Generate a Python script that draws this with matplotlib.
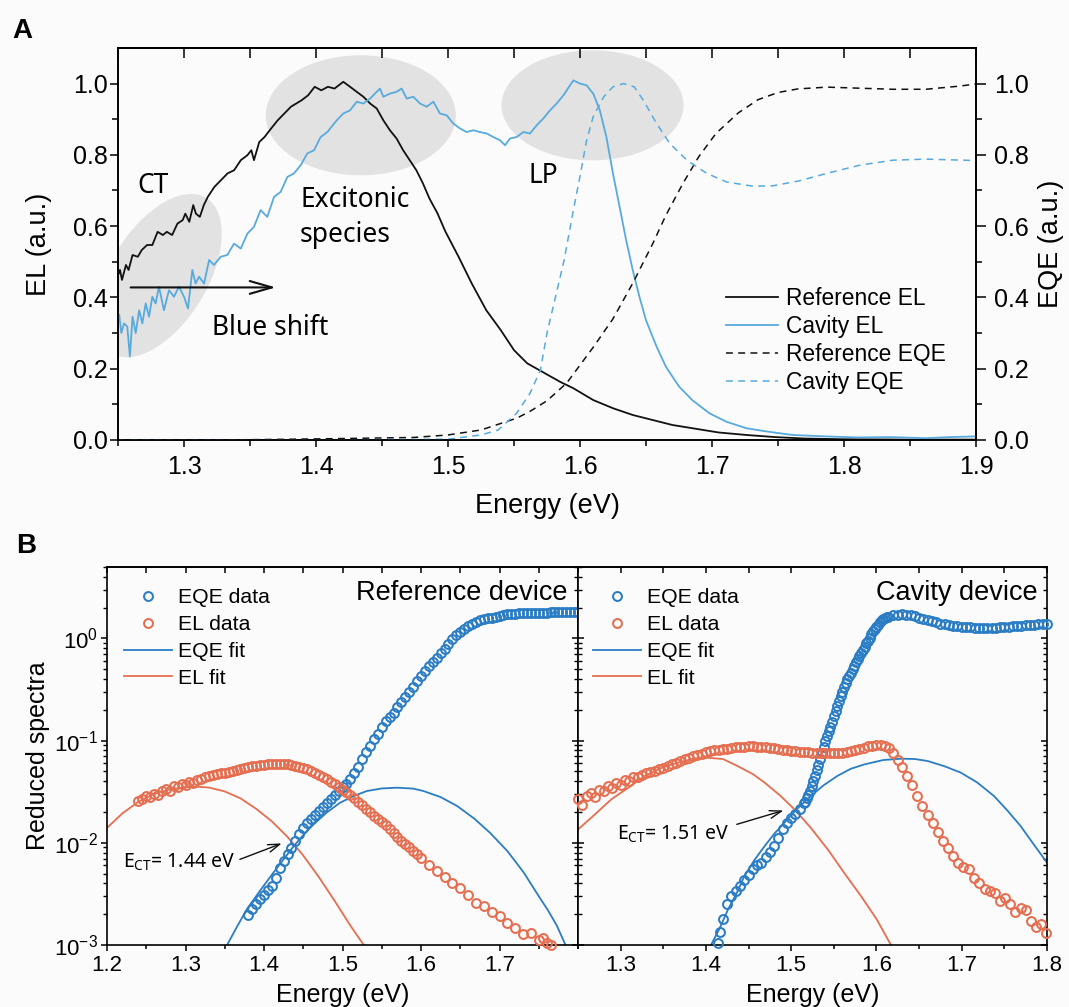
import numpy as np
import matplotlib
matplotlib.use("Agg")
import matplotlib.pyplot as plt
from matplotlib.patches import Ellipse
from matplotlib.transforms import ScaledTranslation
from matplotlib.ticker import MultipleLocator, FormatStrFormatter, NullFormatter, FixedLocator

plt.rcParams["font.family"] = ["Liberation Sans", "DejaVu Sans"]
plt.rcParams["mathtext.fontset"] = "custom"
plt.rcParams["mathtext.rm"] = "Liberation Sans"
plt.rcParams["mathtext.it"] = "Liberation Sans:italic"
plt.rcParams["mathtext.bf"] = "Liberation Sans:bold"

# ---------- panel A data ---------- #
ref_el_e = [1.250, 1.2515, 1.253, 1.256, 1.258, 1.261, 1.265, 1.268, 1.272, 1.276,
            1.280, 1.284, 1.287, 1.291, 1.295, 1.299, 1.301, 1.304, 1.307, 1.309,
            1.312, 1.315, 1.318, 1.323, 1.328, 1.333, 1.338, 1.343, 1.348, 1.351,
            1.353, 1.357, 1.361, 1.366, 1.371, 1.376, 1.381, 1.389, 1.394, 1.399,
            1.404, 1.409, 1.414, 1.4207, 1.4258, 1.4308, 1.4359, 1.441, 1.446, 1.451,
            1.456, 1.461, 1.466, 1.471, 1.476, 1.481, 1.486, 1.492, 1.498, 1.508,
            1.518, 1.529, 1.540, 1.550, 1.560, 1.572, 1.585, 1.595, 1.610, 1.625,
            1.640, 1.655, 1.670, 1.685, 1.705, 1.726, 1.748, 1.770, 1.800, 1.850, 1.900]
ref_el_v = [0.462, 0.477, 0.449, 0.491, 0.477, 0.519, 0.514, 0.533, 0.547, 0.547,
            0.584, 0.575, 0.584, 0.575, 0.607, 0.617, 0.635, 0.612, 0.659, 0.635,
            0.626, 0.659, 0.682, 0.710, 0.729, 0.748, 0.757, 0.785, 0.799, 0.813,
            0.785, 0.836, 0.850, 0.874, 0.897, 0.916, 0.935, 0.953, 0.967, 0.991,
            0.981, 0.991, 0.986, 1.005, 0.991, 0.977, 0.963, 0.944, 0.930, 0.897,
            0.869, 0.846, 0.813, 0.785, 0.757, 0.720, 0.677, 0.636, 0.585, 0.514,
            0.439, 0.364, 0.308, 0.252, 0.215, 0.190, 0.163, 0.145, 0.112, 0.089,
            0.070, 0.056, 0.042, 0.033, 0.021, 0.014, 0.008, 0.004, 0.002, 0.001, 0.001]

cav_el_e = [1.2509, 1.2525, 1.2545, 1.257, 1.259, 1.261, 1.2634, 1.266, 1.2684, 1.271,
            1.2735, 1.276, 1.2785, 1.281, 1.2848, 1.2886, 1.2924, 1.2962, 1.300, 1.303,
            1.3063, 1.3088, 1.3114, 1.3152, 1.319, 1.3227, 1.3278, 1.3328, 1.3379, 1.343,
            1.348, 1.353, 1.358, 1.3631, 1.3682, 1.3732, 1.3783, 1.3833, 1.3884, 1.3934,
            1.3985, 1.4035, 1.4086, 1.4157, 1.4207, 1.4258, 1.4308, 1.4359, 1.441, 1.446,
            1.4485, 1.451, 1.4561, 1.4611, 1.4649, 1.4687, 1.4737, 1.4788, 1.4838, 1.4889,
            1.4939, 1.499, 1.504, 1.5091, 1.5141, 1.5192, 1.5242, 1.5293, 1.5343, 1.5394,
            1.5432, 1.547, 1.552, 1.5571, 1.5621, 1.5672, 1.5722, 1.5773, 1.5823, 1.5874,
            1.5924, 1.595, 1.600, 1.605, 1.610, 1.615, 1.620, 1.625, 1.630, 1.635,
            1.640, 1.645, 1.650, 1.658, 1.665, 1.675, 1.685, 1.698, 1.711, 1.726,
            1.741, 1.761, 1.786, 1.811, 1.836, 1.862, 1.880, 1.900]
cav_el_v = [0.351, 0.300, 0.327, 0.318, 0.234, 0.346, 0.300, 0.364, 0.327, 0.383,
            0.346, 0.402, 0.383, 0.430, 0.364, 0.420, 0.402, 0.430, 0.402, 0.369,
            0.477, 0.439, 0.458, 0.439, 0.505, 0.491, 0.514, 0.519, 0.551, 0.537,
            0.579, 0.598, 0.645, 0.626, 0.682, 0.696, 0.738, 0.748, 0.771, 0.804,
            0.813, 0.850, 0.864, 0.897, 0.916, 0.925, 0.949, 0.944, 0.958, 0.977,
            0.986, 0.963, 0.972, 0.977, 0.986, 0.958, 0.963, 0.944, 0.935, 0.949,
            0.916, 0.911, 0.888, 0.874, 0.864, 0.869, 0.864, 0.860, 0.850, 0.841,
            0.827, 0.846, 0.850, 0.864, 0.860, 0.883, 0.902, 0.925, 0.944, 0.967,
            0.995, 1.009, 1.000, 0.995, 0.972, 0.925, 0.850, 0.747, 0.654, 0.560,
            0.476, 0.402, 0.336, 0.262, 0.206, 0.150, 0.112, 0.075, 0.051, 0.033,
            0.024, 0.014, 0.010, 0.007, 0.008, 0.005, 0.008, 0.010]

ref_eqe_e = [1.250, 1.330, 1.380, 1.421, 1.474, 1.500, 1.525, 1.552, 1.562, 1.575,
             1.590, 1.610, 1.625, 1.640, 1.655, 1.665, 1.678, 1.690, 1.703, 1.720,
             1.735, 1.750, 1.765, 1.787, 1.812, 1.837, 1.862, 1.888, 1.900]
ref_eqe_v = [0.000, 0.000, 0.002, 0.004, 0.007, 0.014, 0.028, 0.061, 0.080, 0.110,
             0.160, 0.260, 0.340, 0.440, 0.550, 0.630, 0.720, 0.795, 0.860, 0.918,
             0.955, 0.975, 0.985, 0.990, 0.987, 0.984, 0.984, 0.993, 0.999]

cav_eqe_e = [1.250, 1.400, 1.450, 1.500, 1.525, 1.538, 1.552, 1.562, 1.570, 1.575,
             1.588, 1.595, 1.600, 1.605, 1.610, 1.618, 1.625, 1.633, 1.641, 1.648,
             1.658, 1.668, 1.681, 1.696, 1.711, 1.731, 1.746, 1.766, 1.787, 1.812,
             1.837, 1.862, 1.900]
cav_eqe_v = [0.000, 0.000, 0.001, 0.002, 0.014, 0.028, 0.075, 0.130, 0.196, 0.300,
             0.505, 0.645, 0.740, 0.841, 0.907, 0.963, 0.991, 1.000, 0.991, 0.953,
             0.888, 0.832, 0.785, 0.748, 0.724, 0.712, 0.713, 0.727, 0.748, 0.771,
             0.785, 0.788, 0.784]

# ---------- panel B data ---------- #
# reference device
ref_eqe_start, ref_eqe_step = 1.380, 0.005
ref_eqe_data = [1.95e-3, 2.24e-3, 2.51e-3, 2.82e-3, 3.09e-3, 3.47e-3, 3.80e-3, 4.57e-3, 5.62e-3, 6.61e-3,
                7.76e-3, 8.91e-3, 1.05e-2, 1.23e-2, 1.38e-2, 1.55e-2, 1.72e-2, 1.88e-2, 2.04e-2, 2.24e-2,
                2.45e-2, 2.66e-2, 2.92e-2, 3.20e-2, 3.51e-2, 3.80e-2, 4.17e-2, 4.79e-2, 5.56e-2, 6.61e-2,
                7.67e-2, 8.91e-2, 0.103, 0.117, 0.136, 0.155, 0.170, 0.187, 0.211, 0.236,
                0.265, 0.297, 0.334, 0.384, 0.430, 0.479, 0.531, 0.589, 0.646, 0.716,
                0.794, 0.881, 0.977, 1.07, 1.16, 1.24, 1.31, 1.39, 1.45, 1.50,
                1.54, 1.57, 1.60, 1.63, 1.66, 1.69, 1.72, 1.74, 1.75, 1.77,
                1.78, 1.79, 1.79, 1.79, 1.79, 1.79, 1.79, 1.80, 1.81, 1.81,
                1.82, 1.82, 1.82, 1.82, 1.82]

ref_el_start, ref_el_step = 1.240, 0.005
ref_el_data = [0.0256, 0.0268, 0.0285, 0.0279, 0.0301, 0.0295, 0.0322, 0.0335, 0.0318, 0.0361,
               0.0352, 0.0378, 0.0371, 0.0392, 0.0385, 0.0415, 0.0422, 0.0436, 0.0447, 0.0459,
               0.0466, 0.0478, 0.0486, 0.0497, 0.0507, 0.0519, 0.0528, 0.0541, 0.0549, 0.0558,
               0.0568, 0.0576, 0.0581, 0.0586, 0.0590, 0.0591, 0.0590, 0.0588, 0.0584, 0.0578,
               0.0568, 0.0555, 0.0540, 0.0522, 0.0502, 0.0480, 0.0458, 0.0437, 0.0417, 0.0395,
               0.0373, 0.0352, 0.0332, 0.0312, 0.0294, 0.0274, 0.0252, 0.0233, 0.0215, 0.0199,
               0.0184, 0.0171, 0.0159, 0.0148, 0.0136, 0.0124, 0.0114, 0.0105, 0.0098, 0.0091,
               0.0083, 0.0077, 0.0071]
ref_el_tail_e = [1.610, 1.620, 1.630, 1.640, 1.650, 1.660, 1.670, 1.680, 1.690, 1.700,
                 1.710, 1.720, 1.730, 1.740, 1.750, 1.755, 1.760, 1.765]
ref_el_tail = [0.0061, 0.0053, 0.0046, 0.0040, 0.0036, 0.0031, 0.0026, 0.0024, 0.0021, 0.0019,
               0.00165, 0.00148, 0.00128, 0.00131, 0.00112, 0.00118, 0.00104, 0.00100]

ref_elfit_e = [1.200, 1.220, 1.240, 1.260, 1.280, 1.300, 1.315, 1.330, 1.350, 1.370,
               1.390, 1.410, 1.430, 1.450, 1.470, 1.490, 1.510, 1.527]
ref_elfit = [0.0140, 0.0195, 0.0252, 0.0300, 0.0333, 0.0351, 0.0354, 0.0347, 0.0318, 0.0272,
             0.0215, 0.0162, 0.0114, 0.0075, 0.0046, 0.0027, 0.00155, 0.0010]
ref_eqefit_e = [1.353, 1.365, 1.378, 1.395, 1.412, 1.425, 1.438, 1.450, 1.463, 1.480,
                1.497, 1.515, 1.531, 1.550, 1.569, 1.590, 1.603, 1.625, 1.646, 1.668,
                1.688, 1.710, 1.731, 1.750, 1.761, 1.773, 1.784]
ref_eqefit = [0.0010, 0.00148, 0.00223, 0.0034, 0.0051, 0.0069, 0.0093, 0.0119, 0.0151, 0.0198,
              0.0247, 0.0288, 0.0321, 0.0340, 0.0346, 0.0339, 0.0321, 0.0280, 0.0229, 0.0172,
              0.0125, 0.0083, 0.0051, 0.0030, 0.00223, 0.00155, 0.0010]

# cavity device (EQE is sampled finer on the steep edge)
cav_eqe_head_e = [1.414, 1.417]
cav_eqe_head = [0.00105, 0.00135]
cav_eqe_low_start, cav_eqe_low_step = 1.420, 0.005
cav_eqe_low = [0.00178, 0.0025, 0.0030, 0.0034, 0.0038, 0.0043, 0.0048, 0.0055, 0.0060, 0.0064,
               0.0072, 0.0082, 0.0093, 0.0112, 0.0135, 0.0155, 0.0175, 0.0192, 0.0213, 0.0245]
cav_eqe_edge_start, cav_eqe_edge_step = 1.516, 0.002
cav_eqe_edge = [0.0251, 0.0272, 0.0295, 0.0324, 0.0359, 0.0398, 0.0447, 0.0513, 0.0582, 0.0661,
                0.0759, 0.0871, 0.0989, 0.111, 0.123, 0.136, 0.153, 0.174, 0.195, 0.219,
                0.245, 0.272, 0.302, 0.331, 0.363, 0.398, 0.432, 0.462, 0.501, 0.537,
                0.582, 0.624, 0.676, 0.724, 0.776, 0.832, 0.891, 0.944, 1.01, 1.10,
                1.17, 1.24, 1.30, 1.36, 1.44, 1.51, 1.55, 1.58, 1.61, 1.63]
cav_eqe_high_start, cav_eqe_high_step = 1.620, 0.005
cav_eqe_high = [1.68, 1.71, 1.72, 1.71, 1.68, 1.64, 1.60, 1.55, 1.51, 1.47,
                1.43, 1.39, 1.37, 1.35, 1.33, 1.31, 1.30, 1.29, 1.28, 1.27,
                1.27, 1.27, 1.27, 1.27, 1.27, 1.28, 1.28, 1.29, 1.31, 1.32,
                1.33, 1.34, 1.35, 1.36, 1.37, 1.38, 1.39]

cav_el_start, cav_el_step = 1.250, 0.005
cav_el_data = [0.0270, 0.0232, 0.0285, 0.0305, 0.0280, 0.0330, 0.0318, 0.0362, 0.0340, 0.0385,
               0.0368, 0.0410, 0.0398, 0.0445, 0.0440, 0.0462, 0.0480, 0.0488, 0.0502, 0.0525,
               0.0545, 0.0565, 0.0585, 0.0605, 0.0630, 0.0655, 0.0675, 0.0700, 0.0722, 0.0740,
               0.0770, 0.0790, 0.0805, 0.0815, 0.0825, 0.0835, 0.0850, 0.0860, 0.0868, 0.0872,
               0.0875, 0.0875, 0.0874, 0.0871, 0.0865, 0.0855, 0.0840, 0.0825, 0.0815, 0.0800,
               0.0795, 0.0790, 0.0780, 0.0770, 0.0765, 0.0760, 0.0755, 0.0752, 0.0750, 0.0752,
               0.0755, 0.0760, 0.0762, 0.0775, 0.0790, 0.0808, 0.0825, 0.0850, 0.0875, 0.0890,
               0.0895, 0.0898, 0.0890, 0.0855, 0.0760, 0.0640]
cav_el_tail_e = [1.630, 1.636, 1.642, 1.648, 1.654, 1.660, 1.666, 1.672, 1.678, 1.684,
                 1.690, 1.696, 1.702, 1.708, 1.714, 1.720, 1.727, 1.733, 1.739, 1.745,
                 1.751, 1.757, 1.763, 1.769, 1.775, 1.781, 1.787, 1.793, 1.799]
cav_el_tail = [0.0550, 0.0450, 0.0370, 0.0290, 0.0230, 0.0185, 0.0155, 0.0128, 0.0103, 0.0088,
               0.0075, 0.0064, 0.0058, 0.0055, 0.0045, 0.0040, 0.0035, 0.0034, 0.0032, 0.0027,
               0.0029, 0.0025, 0.0021, 0.0023, 0.0022, 0.0017, 0.0015, 0.0016, 0.0013]

cav_elfit_e = [1.250, 1.270, 1.289, 1.310, 1.328, 1.350, 1.367, 1.385, 1.402, 1.420,
               1.437, 1.455, 1.469, 1.487, 1.504, 1.523, 1.543, 1.562, 1.582, 1.600, 1.617]
cav_elfit = [0.0135, 0.0190, 0.0266, 0.0350, 0.0450, 0.0550, 0.0607, 0.0665, 0.0679, 0.0660,
             0.0564, 0.0470, 0.0387, 0.0290, 0.0212, 0.0140, 0.0086, 0.0051, 0.0030, 0.0018, 0.0010]
cav_eqefit_e = [1.406, 1.416, 1.426, 1.436, 1.445, 1.457, 1.469, 1.480, 1.492, 1.507,
                1.523, 1.538, 1.554, 1.570, 1.586, 1.608, 1.629, 1.645, 1.660, 1.680,
                1.699, 1.718, 1.738, 1.754, 1.769, 1.785, 1.800]
cav_eqefit = [0.0010, 0.00145, 0.00223, 0.0032, 0.0047, 0.0068, 0.0093, 0.0122, 0.0157, 0.0215,
              0.0286, 0.0365, 0.0450, 0.0530, 0.0585, 0.0645, 0.0665, 0.0660, 0.0631, 0.0560,
              0.0485, 0.0390, 0.0286, 0.0205, 0.0146, 0.0095, 0.0064]


def grid(start, step, vals):
    return start + step * np.arange(len(vals))


BLACK = "#111111"
LIGHT_BLUE = "#58aade"
EQE_BLUE = "#2a7dc4"
EL_ORANGE = "#e66e50"
GREY = "#e2e2e2"
BG = "#fbfbfb"
ANNOT_FONT = ["Noto Sans", "DejaVu Sans"]

fig = plt.figure(figsize=(10.69, 10.07), dpi=100, facecolor=BG)

# ================= panel A ================= #
ax = fig.add_axes([0.1104, 0.5631, 0.8026, 0.3893], facecolor=BG)
ax2 = ax.twinx()


def blob(e, v, w, h, angle=0.0):
    tr = fig.dpi_scale_trans + ScaledTranslation(e, v, ax.transData)
    ax.add_patch(Ellipse((0, 0), w, h, angle=angle, transform=tr,
                         facecolor=GREY, edgecolor="none", zorder=0))


blob(1.2809, 0.461, 1.82, 0.97, 58.6)
blob(1.4339, 0.911, 1.90, 1.20)
blob(1.6095, 0.939, 1.82, 1.10)

l1, = ax.plot(ref_el_e, ref_el_v, color=BLACK, lw=1.3, zorder=3)
l2, = ax.plot(cav_el_e, cav_el_v, color=LIGHT_BLUE, lw=1.3, zorder=3)
dash = (0, (4.5, 3.5))
l3, = ax2.plot(ref_eqe_e, ref_eqe_v, color=BLACK, lw=1.1, ls=dash)
l4, = ax2.plot(cav_eqe_e, cav_eqe_v, color=LIGHT_BLUE, lw=1.1, ls=dash)

ax.set_xlim(1.25, 1.9)
for a in (ax, ax2):
    a.set_ylim(0, 1.1)
    a.yaxis.set_major_locator(FixedLocator([0, 0.2, 0.4, 0.6, 0.8, 1.0]))
    a.yaxis.set_minor_locator(FixedLocator([0.1, 0.3, 0.5, 0.7, 0.9]))
    a.yaxis.set_major_formatter(FormatStrFormatter("%.1f"))
    for s in a.spines.values():
        s.set_linewidth(1.2)

ax.xaxis.set_major_locator(MultipleLocator(0.1))
ax.xaxis.set_minor_locator(MultipleLocator(0.05))
ax.xaxis.set_major_formatter(FormatStrFormatter("%.1f"))
ax.tick_params(axis="x", which="major", direction="out", length=5, width=1.1, labelsize=18, pad=6)
ax.tick_params(axis="x", which="minor", direction="out", length=4, width=1.1)
ax.tick_params(axis="y", which="major", direction="out", length=6, width=1.1, labelsize=18, pad=1.5)
ax.tick_params(axis="y", which="minor", direction="out", length=4, width=1.1)
ax2.tick_params(axis="y", which="major", direction="out", length=7.5, width=1.1, labelsize=18, pad=5.5)
ax2.tick_params(axis="y", which="minor", direction="out", length=4.5, width=1.1)

topA = ax.secondary_xaxis("top")
topA.xaxis.set_major_locator(MultipleLocator(0.05))
topA.tick_params(direction="in", length=7, width=1.1, labeltop=False)
topA.spines["top"].set_linewidth(1.2)

ax.set_xlabel("Energy (eV)", fontsize=19.5)
ax.xaxis.set_label_coords(0.5, -0.136)
ax.set_ylabel("EL (a.u.)", fontsize=19.5)
ax.yaxis.set_label_coords(-0.0773, 0.5)
ax2.set_ylabel("EQE (a.u.)", fontsize=19.5)
ax2.yaxis.set_label_coords(1.072, 0.5)

ax.text(1.2646, 0.692, "CT", fontsize=19, family=ANNOT_FONT, va="baseline", zorder=4)
ax.text(1.3879, 0.654, "Excitonic", fontsize=19, family=ANNOT_FONT, va="baseline", zorder=4)
ax.text(1.3879, 0.556, "species", fontsize=19, family=ANNOT_FONT, va="baseline", zorder=4)
ax.text(1.3215, 0.294, "Blue shift", fontsize=19, family=ANNOT_FONT, va="baseline", zorder=4)
ax.text(1.5608, 0.720, "LP", fontsize=19, family=ANNOT_FONT, va="baseline", zorder=4)
ax.annotate("", xy=(1.3695, 0.428), xytext=(1.2596, 0.428),
            arrowprops=dict(arrowstyle="->,head_length=0.8,head_width=0.23", lw=1.5,
                            color=BLACK, shrinkA=0, shrinkB=0, mutation_scale=20), zorder=4)

ax2.legend([l1, l2, l3, l4], ["Reference EL", "Cavity EL", "Reference EQE", "Cavity EQE"],
           loc="upper left", bbox_to_anchor=(0.7086, 0.391), frameon=False, fontsize=16.4,
           handlelength=2.29, handletextpad=0.34, labelspacing=0.23, borderpad=0,
           borderaxespad=0)

# ================= panel B ================= #
axL = fig.add_axes([0.1001, 0.0616, 0.4406, 0.3754], facecolor=BG)
axR = fig.add_axes([0.5407, 0.0616, 0.4387, 0.3754], facecolor=BG)

mk = dict(marker="o", ls="none", mfc="none", ms=6.4, mew=1.45, clip_on=False, zorder=3)

panels = [
    (axL,
     grid(ref_eqe_start, ref_eqe_step, ref_eqe_data), ref_eqe_data,
     np.concatenate([grid(ref_el_start, ref_el_step, ref_el_data), ref_el_tail_e]),
     ref_el_data + ref_el_tail,
     ref_elfit_e, ref_elfit, ref_eqefit_e, ref_eqefit, 0.0355),
    (axR,
     np.concatenate([cav_eqe_head_e,
                     grid(cav_eqe_low_start, cav_eqe_low_step, cav_eqe_low),
                     grid(cav_eqe_edge_start, cav_eqe_edge_step, cav_eqe_edge),
                     grid(cav_eqe_high_start, cav_eqe_high_step, cav_eqe_high)]),
     cav_eqe_head + cav_eqe_low + cav_eqe_edge + cav_eqe_high,
     np.concatenate([grid(cav_el_start, cav_el_step, cav_el_data), cav_el_tail_e]),
     cav_el_data + cav_el_tail,
     cav_elfit_e, cav_elfit, cav_eqefit_e, cav_eqefit, 0.032),
]

for a, eqe_e, eqe_v, el_e, el_v, fit_el_e, fit_el, fit_eqe_e, fit_eqe, leg_x in panels:
    h1, = a.plot(eqe_e, eqe_v, mec=EQE_BLUE, **mk)
    h2, = a.plot(el_e, el_v, mec=EL_ORANGE, **mk)
    h3, = a.plot(fit_eqe_e, fit_eqe, color=EQE_BLUE, lw=1.3, zorder=2)
    h4, = a.plot(fit_el_e, fit_el, color=EL_ORANGE, lw=1.3, zorder=2)
    a.set_yscale("log")
    a.set_ylim(1e-3, 5)
    a.yaxis.set_minor_formatter(NullFormatter())
    a.xaxis.set_minor_locator(MultipleLocator(0.05))
    a.xaxis.set_major_formatter(FormatStrFormatter("%.1f"))
    a.tick_params(axis="x", which="major", direction="out", length=4.5, width=1.1, labelsize=16, pad=3)
    a.tick_params(axis="x", which="minor", direction="out", length=3, width=1.1)
    for s in a.spines.values():
        s.set_linewidth(1.2)
    top = a.secondary_xaxis("top")
    top.xaxis.set_major_locator(MultipleLocator(0.05))
    top.tick_params(direction="in", length=4.5, width=1.1, labeltop=False)
    top.spines["top"].set_linewidth(1.2)
    a.set_xlabel("Energy (eV)", fontsize=18)
    a.xaxis.set_label_coords(0.5, -0.100)
    a.legend([h1, h2, h3, h4], ["EQE data", "EL data", "EQE fit", "EL fit"],
             loc="upper left", bbox_to_anchor=(leg_x, 0.9434),
             frameon=False, fontsize=15.3, handlelength=2.27, handletextpad=0.28,
             labelspacing=0.37, borderpad=0, borderaxespad=0, numpoints=1)

axL.set_xlim(1.2, 1.8)
axL.xaxis.set_major_locator(FixedLocator([1.2, 1.3, 1.4, 1.5, 1.6, 1.7]))
axL.tick_params(axis="y", which="major", direction="out", length=4.5, width=1.1, labelsize=16, pad=2)
axL.tick_params(axis="y", which="minor", direction="out", length=3, width=1.0)
rightL = axL.secondary_yaxis("right")
rightL.tick_params(which="major", direction="in", length=4.5, width=1.1, labelright=False)
rightL.tick_params(which="minor", direction="in", length=3, width=1.0, labelright=False)
rightL.yaxis.set_minor_formatter(NullFormatter())

axR.set_xlim(1.25, 1.8)
axR.xaxis.set_major_locator(FixedLocator([1.3, 1.4, 1.5, 1.6, 1.7, 1.8]))
axR.tick_params(axis="y", which="major", left=True, right=True, direction="in", length=4.5,
                width=1.1, labelleft=False)
axR.tick_params(axis="y", which="minor", left=True, right=True, direction="in", length=3,
                width=1.0, labelleft=False)

axL.set_ylabel("Reduced spectra", fontsize=18)
axL.yaxis.set_label_coords(-0.121, 0.5)

axL.text(0.978, 0.912, "Reference device", transform=axL.transAxes, ha="right",
         va="baseline", fontsize=19.5)
axR.text(0.979, 0.912, "Cavity device", transform=axR.transAxes, ha="right",
         va="baseline", fontsize=19.5)

axL.text(1.2209, 5.78e-3, r"E$_{\mathregular{CT}}$= 1.44 eV", fontsize=14,
         family=ANNOT_FONT, va="baseline")
axL.annotate("", xy=(1.4226, 9.86e-3), xytext=(1.3693, 6.88e-3),
             arrowprops=dict(arrowstyle="->,head_length=0.6,head_width=0.2", lw=1.0,
                             color=BLACK, shrinkA=0, shrinkB=0, mutation_scale=14))
axR.text(1.2957, 0.0108, r"E$_{\mathregular{CT}}$= 1.51 eV", fontsize=14,
         family=ANNOT_FONT, va="baseline")
axR.annotate("", xy=(1.4909, 0.0207), xytext=(1.4362, 0.01514),
             arrowprops=dict(arrowstyle="->,head_length=0.6,head_width=0.2", lw=1.0,
                             color=BLACK, shrinkA=0, shrinkB=0, mutation_scale=14))

fig.text(0.0112, 0.9623, "A", fontsize=20, fontweight="bold", va="baseline")
fig.text(0.0155, 0.4508, "B", fontsize=20, fontweight="bold", va="baseline")

fig.savefig("out.png", dpi=100, facecolor=BG)
